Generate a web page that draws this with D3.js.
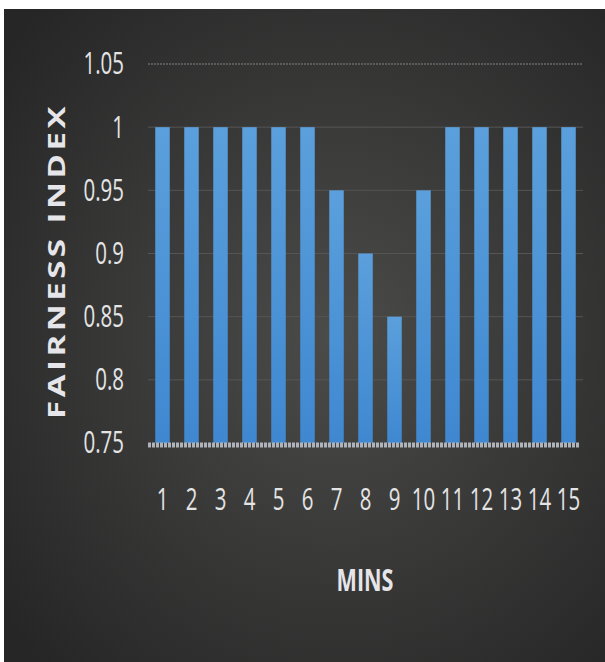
<!DOCTYPE html>
<html>
<head>
<meta charset="utf-8">
<script src="https://cdn.jsdelivr.net/npm/d3@7"></script>
<style>
  html, body { margin: 0; padding: 0; background: #fff; }
  svg { display: block; }
  text { font-family: "Open Sans", sans-serif; }
</style>
</head>
<body>
<svg id="chart"></svg>
<script>
// Data
const mins = ["1", "2", "3", "4", "5", "6", "7", "8", "9", "10", "11", "12", "13", "14", "15"];
const fairness = [1, 1, 1, 1, 1, 1, 0.95, 0.9, 0.85, 0.95, 1, 1, 1, 1, 1];
const yTicks = [0.75, 0.8, 0.85, 0.9, 0.95, 1, 1.05];
const yTickLabels = ["0.75", "0.8", "0.85", "0.9", "0.95", "1", "1.05"];

const W = 605, H = 662;
const squeeze = 0.66; //narrow the glyphs, the original font is a condensed one
const svg = d3.select("#chart").attr("width", W).attr("height", H);

//Background panel with soft radial light
const defs = svg.append("defs");
const bg = defs.append("radialGradient").attr("id", "bg")
  .attr("cx", "0.55").attr("cy", "0.5").attr("r", "0.7");
bg.append("stop").attr("offset", "0%").attr("stop-color", "#4b4b4a");
bg.append("stop").attr("offset", "100%").attr("stop-color", "#262626");

const barGrad = defs.append("linearGradient").attr("id", "bar")
  .attr("x1", 0).attr("y1", 0).attr("x2", 0).attr("y2", 1);
barGrad.append("stop").attr("offset", "0%").attr("stop-color", "#5ba0dc");
barGrad.append("stop").attr("offset", "100%").attr("stop-color", "#3f88d1");

svg.append("rect")
  .attr("x", 4).attr("y", 9).attr("width", W - 4).attr("height", H - 9)
  .attr("fill", "url(#bg)");

//Plot area
const margin = { left: 148, right: 22, top: 64, bottom: 219 };
const x = d3.scaleBand()
  .domain(mins)
  .range([margin.left, W - margin.right])
  .paddingInner(0.5)
  .paddingOuter(0.25);
const y = d3.scaleLinear()
  .domain([0.75, 1.05])
  .range([H - margin.bottom, margin.top]);

//Gridlines
svg.append("g")
  .selectAll("line")
  .data(yTicks.filter(d => d > 0.75))
  .join("line")
  .attr("x1", margin.left).attr("x2", W - margin.right)
  .attr("y1", d => y(d)).attr("y2", d => y(d))
  .attr("stroke", d => d === 1.05 ? "#858585" : "#555555")
  .attr("stroke-width", 1)
  .attr("stroke-dasharray", d => d === 1.05 ? "2,1" : null);

//Bars
svg.append("g")
  .selectAll("rect")
  .data(fairness)
  .join("rect")
  .attr("x", (d, i) => x(mins[i]))
  .attr("width", x.bandwidth())
  .attr("y", d => y(d))
  .attr("height", d => y(0.75) - y(d))
  .attr("fill", "url(#bar)");

//Baseline
svg.append("line")
  .attr("x1", margin.left).attr("x2", W - margin.right - 3)
  .attr("y1", y(0.75) + 2).attr("y2", y(0.75) + 2)
  .attr("stroke", "#aeb4ba").attr("stroke-width", 5)
  .attr("stroke-dasharray", "3,1");

//Y axis
const yAxis = d3.axisLeft(y)
  .tickValues(yTicks)
  .tickFormat((d, i) => yTickLabels[i])
  .tickSize(0)
  .tickPadding(0);
svg.append("g")
  .attr("transform", `translate(${margin.left - 24},0)`)
  .call(yAxis)
  .call(g => g.select(".domain").remove())
  .selectAll("text")
  .attr("fill", "#e4e4e4")
  .attr("transform", `scale(${squeeze},1)`)
  .style("font-size", "31px");

//X axis
const xAxis = d3.axisBottom(x).tickSize(0).tickPadding(0);
svg.append("g")
  .attr("transform", `translate(0,${y(0.75) + 45})`)
  .call(xAxis)
  .call(g => g.select(".domain").remove())
  .selectAll("text")
  .attr("fill", "#e4e4e4")
  .attr("transform", `scale(${squeeze},1)`)
  .style("font-size", "31px");

//Axis titles
svg.append("text")
  .attr("transform", `translate(365,591) scale(0.72,1)`)
  .attr("text-anchor", "middle")
  .attr("fill", "#e6e6ea")
  .style("font-size", "30px")
  .style("font-weight", "bold")
  .text("MINS");

const yTitle = svg.append("text")
  .attr("text-anchor", "middle")
  .attr("fill", "#e6e6ea")
  .style("font-size", "24px")
  .style("font-weight", "bold")
  .style("letter-spacing", "2.5px")
  .text("FAIRNESS INDEX");
//Stretch along its length so it covers the same span as in the original
const stretch = 316 / yTitle.node().getComputedTextLength();
yTitle.attr("transform", `translate(65,261) rotate(-90) scale(${stretch},1)`);
</script>
</body>
</html>
